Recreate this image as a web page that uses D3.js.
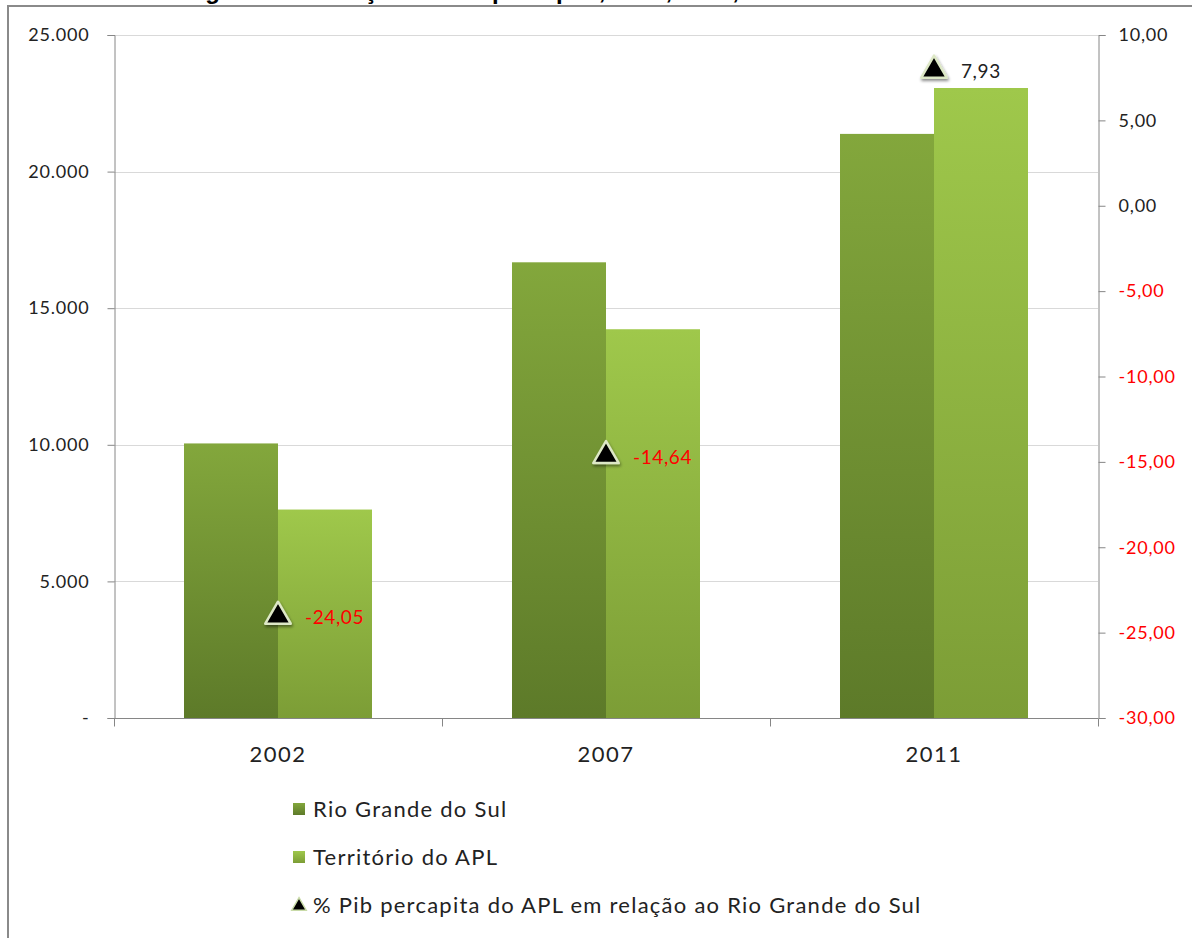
<!DOCTYPE html>
<html>
<head>
<meta charset="utf-8">
<script src="https://cdn.jsdelivr.net/npm/d3@7"></script>
<style>
  body { margin: 0; background: #fff; }
  svg { display: block; font-family: Lato, "Open Sans", sans-serif; }
</style>
</head>
<body>
<svg id="chart" width="1192" height="938"></svg>
<script>
// chart data
var years = ['2002', '2007', '2011'];
var series = ['Rio Grande do Sul', 'Território do APL'];
var rsValues = [10050, 16680, 21380];
var aplValues = [7630, 14230, 23060];
var pctValues = [-24.05, -14.64, 7.93];
var leftTicks = [0, 5000, 10000, 15000, 20000, 25000];
var rightTicks = [10, 5, 0, -5, -10, -15, -20, -25, -30];
var pctLabel = '% Pib percapita do APL em relação ao Rio Grande do Sul';
var title = 'Figura 3 - Evolução do Pib percapita, 2002, 2007, 2011';

var svg = d3.select('#chart');
var margin = {left: 114, right: 1098, top: 35, bottom: 718};

var x0 = d3.scaleBand().domain(years).range([margin.left, margin.right]);
var x1 = d3.scaleBand().domain(series).range([0, 188]);
var yL = d3.scaleLinear().domain([0, 25000]).range([margin.bottom, margin.top]);
var yR = d3.scaleLinear().domain([-30, 10]).range([margin.bottom, margin.top]);

var fmtL = function(v){ return v === 0 ? '-' : d3.format(',')(v).replace(/,/g, '.'); };
var fmtR = function(v){ return d3.format('.2f')(v).replace('.', ',').replace('−', '-'); };

// gradients
var defs = svg.append('defs');
function grad(id, top, bottom) {
  var g = defs.append('linearGradient').attr('id', id)
    .attr('x1', 0).attr('y1', 0).attr('x2', 0).attr('y2', 1);
  g.append('stop').attr('offset', '0%').attr('stop-color', top);
  g.append('stop').attr('offset', '100%').attr('stop-color', bottom);
}
grad('g_rs', '#83a73c', '#5d7a29');
grad('g_apl', '#9fc84b', '#7c9d36');
var sh = defs.append('filter').attr('id', 'shadow').attr('x', '-50%').attr('y', '-50%').attr('width', '200%').attr('height', '200%');
sh.append('feDropShadow').attr('dx', 1).attr('dy', 2).attr('stdDeviation', 1.5).attr('flood-color', '#000').attr('flood-opacity', 0.45);

// title (cut off at the top, as in the source) and frame
svg.append('text')
  .attr('x', 184).attr('y', -1)
  .style('font-family', 'Liberation Sans, Arial, sans-serif')
  .style('font-weight', 'bold').style('font-size', '24px')
  .text(title);
svg.append('rect')
  .attr('x', 8).attr('y', 6).attr('width', 1200).attr('height', 960)
  .attr('fill', '#fff').attr('stroke', '#8a8a8a').attr('stroke-width', 2);

// gridlines
svg.append('g').selectAll('line')
  .data(leftTicks.filter(function(d){ return d > 0; }))
  .enter().append('line')
  .attr('x1', margin.left).attr('x2', margin.right)
  .attr('y1', function(d){ return Math.round(yL(d)) + 0.5; })
  .attr('y2', function(d){ return Math.round(yL(d)) + 0.5; })
  .attr('stroke', '#d9d9d9');

// bars
var groups = svg.append('g').selectAll('g')
  .data(years).enter().append('g')
  .attr('transform', function(d){ return 'translate(' + (x0(d) + (x0.bandwidth() - 188) / 2) + ',0)'; });

groups.selectAll('rect')
  .data(function(d, i){ return [{s: series[0], v: rsValues[i]}, {s: series[1], v: aplValues[i]}]; })
  .enter().append('rect')
  .attr('x', function(d){ return x1(d.s); })
  .attr('width', x1.bandwidth())
  .attr('y', function(d){ return yL(d.v); })
  .attr('height', function(d){ return margin.bottom - yL(d.v); })
  .attr('fill', function(d){ return d.s === series[0] ? 'url(#g_rs)' : 'url(#g_apl)'; });

// axes
var axisColor = '#868686';
var leftAxis = svg.append('g').attr('transform', 'translate(' + (margin.left + 0.5) + ',0)')
  .call(d3.axisLeft(yL).tickValues(leftTicks).tickFormat(fmtL).tickSize(7).tickPadding(18));
var rightAxis = svg.append('g').attr('transform', 'translate(' + (margin.right + 0.5) + ',0)')
  .call(d3.axisRight(yR).tickValues(rightTicks).tickFormat(fmtR).tickSize(7).tickPadding(13));
[leftAxis, rightAxis].forEach(function(a){
  a.select('.domain').attr('stroke', axisColor);
  a.selectAll('.tick line').attr('stroke', axisColor);
  a.selectAll('text').style('font-size', '18px').style('letter-spacing', '0.8px')
    .style('font-family', 'Lato, sans-serif');
});
leftAxis.selectAll('text').attr('fill', '#222');
rightAxis.selectAll('text').attr('fill', function(d){ return d < 0 ? '#ff0000' : '#222'; });

var bottomAxis = svg.append('g').attr('transform', 'translate(0,' + (margin.bottom + 0.5) + ')');
bottomAxis.append('line')
  .attr('x1', margin.left).attr('x2', margin.right)
  .attr('stroke', axisColor);
bottomAxis.selectAll('line.tk')
  .data([margin.left].concat(years.map(function(d){ return x0(d) + x0.bandwidth(); })))
  .enter().append('line').attr('class', 'tk')
  .attr('x1', function(d){ return Math.round(d) + 0.5; })
  .attr('x2', function(d){ return Math.round(d) + 0.5; })
  .attr('y1', 0).attr('y2', 8)
  .attr('stroke', axisColor);
bottomAxis.selectAll('text')
  .data(years).enter().append('text')
  .attr('x', function(d){ return x0(d) + x0.bandwidth() / 2; })
  .attr('y', 43)
  .attr('text-anchor', 'middle')
  .style('font-size', '22px').style('letter-spacing', '1.5px').attr('fill', '#222')
  .text(function(d){ return d; });

// triangle markers with labels
var tri = d3.symbol().type(d3.symbolTriangle).size(280);
var marks = svg.append('g').selectAll('g')
  .data(pctValues).enter().append('g')
  .attr('transform', function(d, i){ return 'translate(' + (x0(years[i]) + x0.bandwidth() / 2) + ',' + yR(d) + ')'; });
marks.append('path')
  .attr('d', tri)
  .attr('fill', '#000')
  .attr('stroke', '#dde8c6').attr('stroke-width', 2.5)
  .attr('stroke-linejoin', 'round')
  .attr('filter', 'url(#shadow)');
marks.append('text')
  .attr('x', 27).attr('y', 8)
  .style('font-size', '19px').style('letter-spacing', '0.6px')
  .attr('fill', function(d){ return d < 0 ? '#ff0000' : '#222'; })
  .text(fmtR);

// legend
var legend = svg.append('g').attr('transform', 'translate(293,803)');
var items = [
  {label: series[0], fill: 'url(#g_rs)'},
  {label: series[1], fill: 'url(#g_apl)'},
  {label: pctLabel, fill: null}
];
var li = legend.selectAll('g').data(items).enter().append('g')
  .attr('transform', function(d, i){ return 'translate(0,' + (i * 48) + ')'; });
li.filter(function(d){ return d.fill; }).append('rect')
  .attr('width', 12).attr('height', 12)
  .attr('fill', function(d){ return d.fill; });
li.filter(function(d){ return !d.fill; }).append('path')
  .attr('transform', 'translate(6,7)')
  .attr('d', d3.symbol().type(d3.symbolTriangle).size(90))
  .attr('fill', '#000').attr('stroke', '#c9dba8').attr('stroke-width', 1.5);
li.append('text')
  .attr('x', 20).attr('y', 14)
  .style('font-size', '22px').style('letter-spacing', '1.25px').attr('fill', '#222')
  .text(function(d){ return d.label; });
</script>
</body>
</html>
